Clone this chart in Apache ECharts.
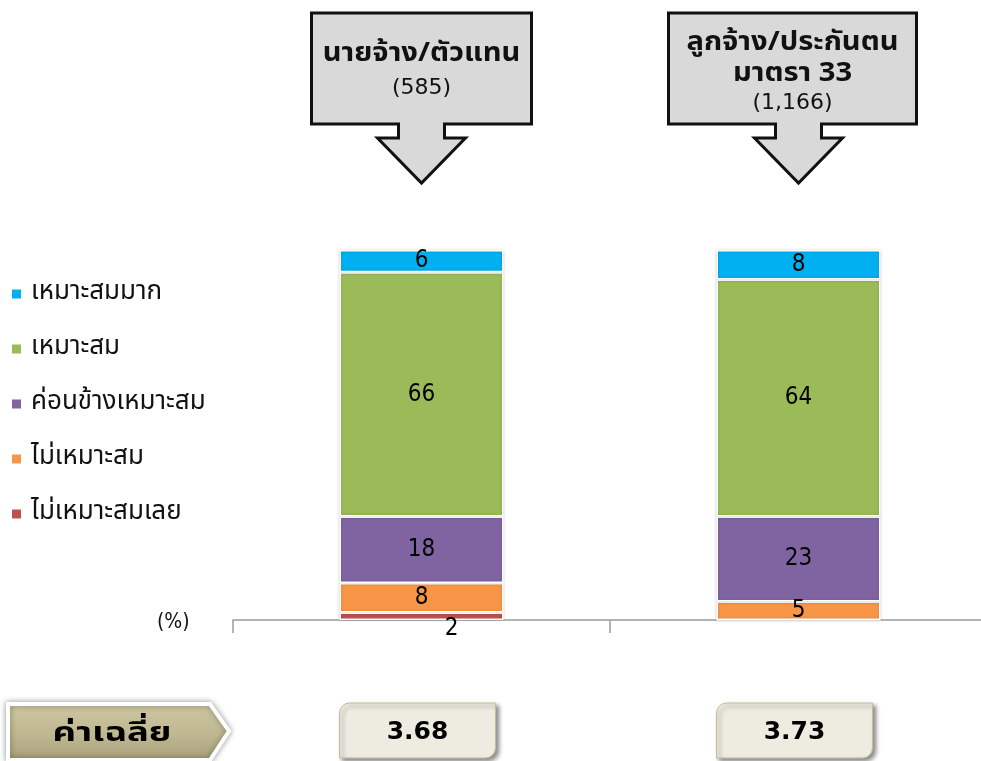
<!DOCTYPE html>
<html>
<head>
<meta charset="utf-8">
<script src="https://cdn.jsdelivr.net/npm/echarts@6/dist/echarts.min.js"></script>
<style>
  html, body { margin: 0; padding: 0; background: #fff; overflow: hidden; }
  #chart { width: 990px; height: 761px; }
</style>
</head>
<body>
<div id="chart"></div>
<script>
// Respondent groups (x categories)
const groups = ['นายจ้าง/ตัวแทน', 'ลูกจ้าง/ประกันตน มาตรา 33'];
// Callout heading lines and sample sizes per group
const groupTitleLines = [['นายจ้าง/ตัวแทน'], ['ลูกจ้าง/ประกันตน', 'มาตรา 33']];
const sampleSizes = ['585', '1,166'];
// Mean score per group
const averages = [3.68, 3.73];
const averageLabel = 'ค่าเฉลี่ย';

// Rating levels, stacked from the bottom up
const levels = ['ไม่เหมาะสมเลย', 'ไม่เหมาะสม', 'ค่อนข้างเหมาะสม', 'เหมาะสม', 'เหมาะสมมาก'];
// Percentages per rating level (one value per group)
const veryUnsuitable = [2, 0];
const unsuitable = [8, 5];
const fairlySuitable = [18, 23];
const suitable = [66, 64];
const verySuitable = [6, 8];

const levelValues = [veryUnsuitable, unsuitable, fairlySuitable, suitable, verySuitable];
const levelColors = ['#C0504D', '#F79646', '#8064A2', '#9BBB59', '#00B0F0'];

const THAI = "Tahoma, 'Noto Sans Thai', 'Loma', 'Garuda', 'DejaVu Sans', sans-serif";
const NUM = "'DejaVu Sans Condensed', 'Liberation Sans Narrow', 'Open Sans', sans-serif";
const BOLDNUM = "Tahoma, 'DejaVu Sans', sans-serif";

const chart = echarts.init(document.getElementById('chart'), null, { renderer: 'canvas' });

const series = levels.map((name, i) => ({
  name: name,
  type: 'bar',
  stack: 'total',
  barWidth: 164,
  data: levelValues[i].map(v => {
    const item = { value: v };
    // the smallest slice's label sits just below the axis, nudged right
    if (i === 0 && v > 0 && v < 4) {
      item.label = { offset: [30, 12] };
    }
    return item;
  }),
  itemStyle: {
    color: levelColors[i],
    borderColor: '#ffffff',
    borderWidth: 1.5,
    shadowBlur: 3,
    shadowColor: 'rgba(0,0,0,0.18)'
  },
  label: {
    show: true,
    position: 'inside',
    color: '#000',
    fontFamily: NUM,
    fontSize: 24,
    formatter: p => (p.value > 0 ? String(p.value) : '')
  }
}));

chart.setOption({
  animation: false,
  backgroundColor: '#ffffff',
  grid: { left: 233, top: 250, width: 754, height: 370, containLabel: false },
  xAxis: {
    type: 'category',
    data: groups,
    axisLine: { lineStyle: { color: '#9A9A9A', width: 1.5 } },
    axisTick: { show: true, length: 13, lineStyle: { color: '#9A9A9A', width: 1.5 } },
    axisLabel: { show: false },
    splitLine: { show: false }
  },
  yAxis: {
    type: 'value',
    min: 0,
    max: 100,
    show: false
  },
  legend: {
    data: levels.slice().reverse(),
    orient: 'vertical',
    left: 5,
    top: 276,
    itemWidth: 11,
    itemHeight: 11,
    itemGap: 29,
    icon: 'rect',
    textStyle: { fontFamily: THAI, fontSize: 26, color: '#111', padding: [0, 0, 0, 4] }
  },
  series: series
});

// Decorations placed relative to each category's centre
function buildGraphics() {
  const centers = groups.map((g, i) => chart.convertToPixel({ xAxisIndex: 0 }, i));
  const elements = [];

  // "(%)" unit marker left of the axis
  elements.push({
    type: 'text',
    left: 157,
    top: 612,
    style: { text: '(%)', fontFamily: NUM, fontSize: 21, fill: '#111' }
  });

  // Downward arrow callouts above each bar
  const callout = [
    { left: -110, right: 110, lineY: [56], sizeY: 88 },
    { left: -130, right: 118, lineY: [45, 76], sizeY: 103 }
  ];
  centers.forEach((cx, i) => {
    const c = callout[i];
    const pts = [
      [c.left, 13], [c.right, 13], [c.right, 124], [23, 124], [23, 138], [44, 138],
      [0, 183], [-44, 138], [-23, 138], [-23, 124], [c.left, 124]
    ].map(p => [cx + p[0], p[1]]);
    elements.push({
      type: 'polygon',
      shape: { points: pts },
      style: { fill: '#D9D9D9', stroke: '#111', lineWidth: 3, lineJoin: 'miter' },
      z: 10
    });
    const midX = cx + (c.left + c.right) / 2;
    groupTitleLines[i].forEach((line, k) => {
      elements.push({
        type: 'text',
        x: midX,
        y: c.lineY[k],
        scaleX: 1.12,
        style: {
          text: line, fontFamily: THAI, fontSize: 26, fontWeight: 'bold', fill: '#111',
          align: 'center', verticalAlign: 'middle'
        },
        z: 11
      });
    });
    elements.push({
      type: 'text',
      x: midX,
      y: c.sizeY,
      style: {
        text: '(' + sampleSizes[i] + ')', fontFamily: BOLDNUM, fontSize: 22,
        fill: '#111', align: 'center', verticalAlign: 'middle'
      },
      z: 11
    });
  });

  // Chevron heading for the average row
  elements.push({
    type: 'polygon',
    shape: { points: [[8, 704], [210, 704], [229, 731], [210, 760], [8, 760]] },
    style: {
      fill: new echarts.graphic.LinearGradient(0, 0, 0, 1, [
        { offset: 0, color: '#CEC7A4' },
        { offset: 0.5, color: '#C1B992' },
        { offset: 1, color: '#A8A07B' }
      ]),
      stroke: '#ffffff',
      lineWidth: 4,
      shadowBlur: 6,
      shadowColor: 'rgba(0,0,0,0.35)'
    },
    z: 10
  });
  elements.push({
    type: 'text',
    x: 112,
    y: 736,
    scaleX: 1.35,
    style: {
      text: averageLabel, fontFamily: THAI, fontSize: 27, fontWeight: 'bold', fill: '#000',
      align: 'center', verticalAlign: 'middle'
    },
    z: 11
  });

  // Average value boxes under each bar
  centers.forEach((cx, i) => {
    const bx = cx - 82;
    elements.push({
      type: 'rect',
      shape: { x: bx, y: 703, width: 156, height: 55, r: [10, 0, 10, 0] },
      style: {
        fill: '#EEECE1', stroke: '#C4BD97', lineWidth: 1,
        shadowBlur: 4, shadowOffsetX: 3, shadowOffsetY: 3, shadowColor: 'rgba(0,0,0,0.45)'
      },
      z: 10
    });
    elements.push({
      type: 'text',
      x: bx + 78,
      y: 732,
      style: {
        text: averages[i].toFixed(2), fontFamily: BOLDNUM, fontSize: 25,
        fontWeight: 'bold', fill: '#000', align: 'center', verticalAlign: 'middle'
      },
      z: 11
    });
  });

  chart.setOption({ graphic: { elements: elements } });
}

buildGraphics();
</script>
</body>
</html>
